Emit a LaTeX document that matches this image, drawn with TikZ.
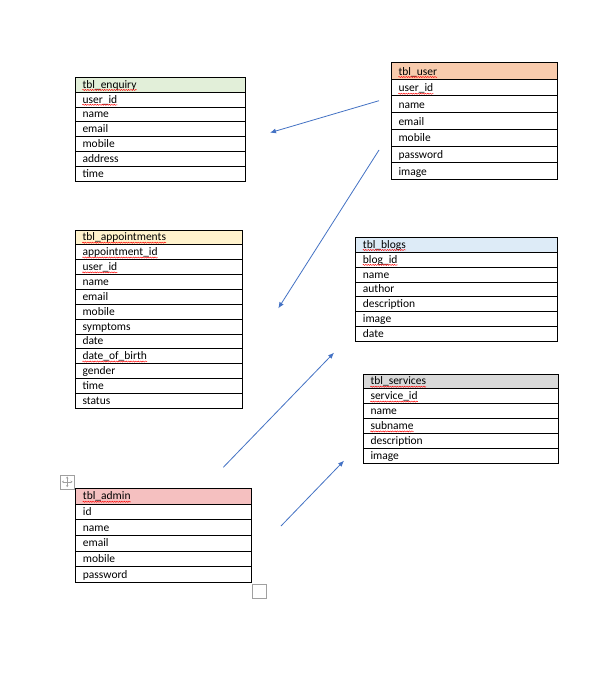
\documentclass[tikz,border=0pt]{standalone}
\usepackage{fontspec}
\setmainfont{Carlito}
\usetikzlibrary{arrows.meta,decorations.pathmorphing}
\definecolor{hdgreen}{HTML}{E2EFD9}
\definecolor{hdorange}{HTML}{F8CBAD}
\definecolor{hdyellow}{HTML}{FFF2CC}
\definecolor{hdblue}{HTML}{DDEBF7}
\definecolor{hdgray}{HTML}{D9D9D9}
\definecolor{hdpink}{HTML}{F5C0C0}
\definecolor{arrowblue}{HTML}{4472C4}
\definecolor{handlegray}{HTML}{A0A0A0}
\tikzset{
  rowbox/.style={draw=black, line width=0.9pt},
  cell/.style={anchor=base west, inner sep=0pt, font=\fontsize{11.5}{13}\selectfont},
  squig/.style={draw=red, line width=0.45pt, decorate, decoration={snake, amplitude=0.55pt, segment length=2.4pt}},
  link/.style={draw=arrowblue, line width=0.8pt, -{Latex[length=6pt,width=5pt]}},
  handle/.style={draw=handlegray, line width=0.6pt}
}
% #1 id, #2 left, #3 right, #4 top, #5 row height, #6 header fill, #7 rows text/squiggle
\newcommand{\erdtable}[7]{%
  \fill[#6] (#2,#4) rectangle (#3,{#4+#5});
  \foreach \txt/\sq [count=\i from 0] in {#7} {
    \draw[rowbox] (#2,{#4+\i*#5}) rectangle (#3,{#4+(\i+1)*#5});
    \node[cell] (#1-\i) at ({#2+7},{#4+(\i+1)*#5-4}) {\txt};
    \ifnum\sq=1
      \draw[squig] ([yshift=-1.8pt]#1-\i.base west) -- ([yshift=-1.8pt]#1-\i.base east);
    \fi
  }%
}
\begin{document}
\begin{tikzpicture}[x=1pt,y=-1pt]
\useasboundingbox (0,0) rectangle (613,698);
\fill[white] (0,0) rectangle (613,698);

\erdtable{enq}{75.3}{245.3}{77.3}{14.86}{hdgreen}{tbl\_enquiry/1,user\_id/1,name/0,email/0,mobile/0,address/0,time/0}
\erdtable{usr}{391.3}{557.5}{62.5}{16.7}{hdorange}{tbl\_user/1,user\_id/1,name/0,email/0,mobile/0,password/0,image/0}
\erdtable{apt}{75.3}{242.7}{230}{14.86}{hdyellow}{tbl\_appointments/1,appointment\_id/1,user\_id/1,name/0,email/0,mobile/0,symptoms/0,date/0,date\_of\_birth/1,gender/0,time/0,status/0}
\erdtable{blg}{355.7}{557.3}{237.3}{14.9}{hdblue}{tbl\_blogs/1,blog\_id/1,name/0,author/0,description/0,image/0,date/0}
\erdtable{srv}{363.3}{558}{374}{14.9}{hdgray}{tbl\_services/1,service\_id/1,name/0,subname/1,description/0,image/0}
\erdtable{adm}{75.7}{251.7}{488.3}{15.67}{hdpink}{tbl\_admin/1,id/0,name/0,email/0,mobile/0,password/0}

% connectors (free-floating ends)
\coordinate (a1s) at (379,100.7);
\coordinate (a1e) at (270,132.7);
\coordinate (a2s) at (379,150);
\coordinate (a2e) at (278.3,308.3);
\coordinate (a3s) at (223.3,467.3);
\coordinate (a3e) at (334,352.7);
\coordinate (a4s) at (281,526);
\coordinate (a4e) at (344,460.7);
\draw[link] (a1s) -- (a1e);
\draw[link] (a2s) -- (a2e);
\draw[link] (a3s) -- (a3e);
\draw[link] (a4s) -- (a4e);

% table move handle
\node[handle, minimum size=14pt, inner sep=0pt] (move) at (67.2,481.8) {};
\draw[handlegray, line width=0.5pt, {Stealth[length=2pt,width=2.5pt]}-{Stealth[length=2pt,width=2.5pt]}] ([xshift=2pt]move.west) -- ([xshift=-2pt]move.east);
\draw[handlegray, line width=0.5pt, {Stealth[length=2pt,width=2.5pt]}-{Stealth[length=2pt,width=2.5pt]}] ([yshift=-2pt]move.north) -- ([yshift=2pt]move.south);
% table resize handle
\node[handle, minimum size=14pt, inner sep=0pt] (resize) at (259.7,591.3) {};
\end{tikzpicture}
\end{document}
